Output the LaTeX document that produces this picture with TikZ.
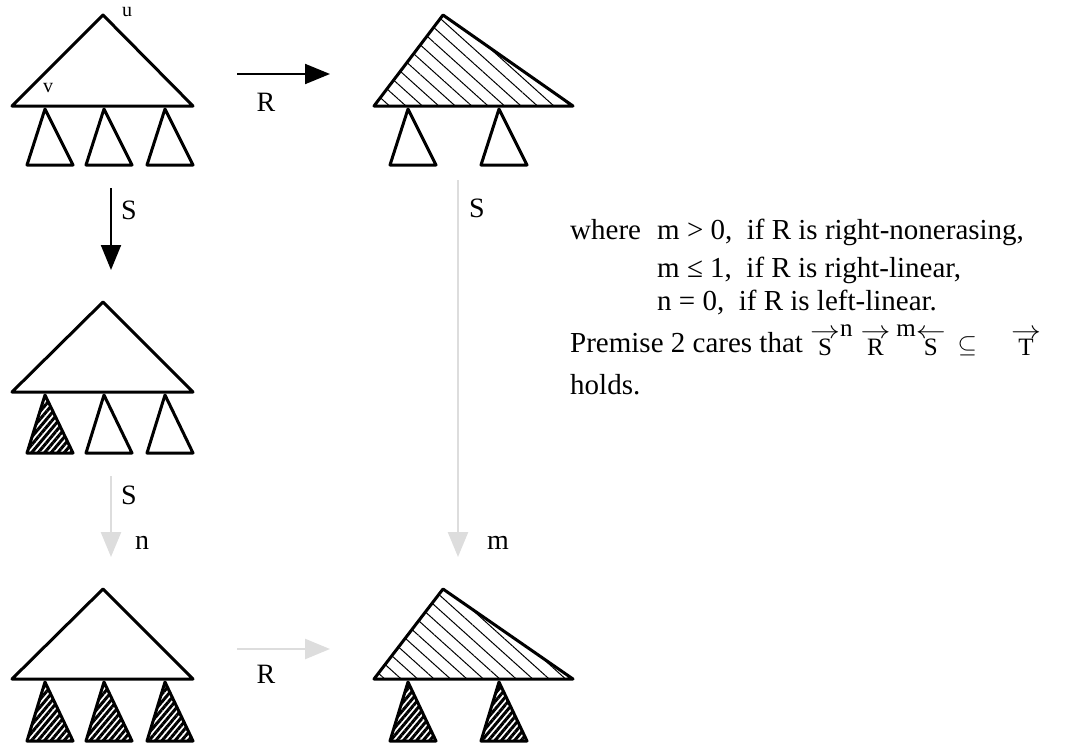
\documentclass[tikz,border=0pt]{standalone}
\usepackage{amsmath,amssymb,graphicx}
\usepackage{fontspec}
\setmainfont{Liberation Serif}
\usetikzlibrary{arrows.meta,patterns.meta}
\definecolor{lightgrey}{RGB}{221,221,221}

% letter with an arrow over it, for the relation in the text
\newcommand\relto[1]{\mbox{\ooalign{\hfil\raisebox{-3pt}{\fontsize{25}{25}\selectfont #1}\hfil\cr
  \raisebox{.48em}{\scalebox{1.2}[1]{$\rightarrow$}}\cr}}}
\newcommand\relfrom[1]{\mbox{\ooalign{\hfil\raisebox{-3pt}{\fontsize{25}{25}\selectfont #1}\hfil\cr
  \raisebox{.48em}{\scalebox{1.2}[1]{$\leftarrow$}}\cr}}}
\newcommand\uppow[1]{\raisebox{.55em}{\fontsize{25}{25}\selectfont #1}}

\tikzset{
  tree/.style={line width=3pt, line join=round},
  hatchtop/.style={pattern={Lines[angle=-42,distance=11pt,line width=1pt]}},
  hatchsub/.style={pattern={Lines[angle=50,distance=5pt,line width=3pt]}},
  black arrow/.style={line width=2pt, -{Triangle[length=25pt,width=20pt]}},
  grey arrow/.style={lightgrey, line width=2.5pt, -{Triangle[length=25pt,width=20pt]}},
  lbl/.style={font=\fontsize{28}{32}\selectfont, inner sep=0pt},
  small lbl/.style={font=\fontsize{20}{24}\selectfont, inner sep=0pt},
  txt/.style={font=\fontsize{29}{33}\selectfont, inner sep=0pt, anchor=base west}
}

\begin{document}
\begin{tikzpicture}[x=1pt,y=-1pt]
  \useasboundingbox (0,0) rectangle (1079,747);

  % top left
  \draw[tree] (103,15) -- (193,106) -- (12,106) -- cycle;
  \foreach \b in {27,86,147}
    \draw[tree] (\b+18,109) -- (\b+46,165) -- (\b,165) -- cycle;
  \node[small lbl] (u) at (127,12) {u};
  \node[small lbl] (v) at (48,88) {v};

  % top middle
  \draw[tree, hatchtop] (443,15) -- (573,106) -- (374,106) -- cycle;
  \foreach \b in {390,481}
    \draw[tree] (\b+18,109) -- (\b+46,165) -- (\b,165) -- cycle;

  % middle left
  \draw[tree] (103,302) -- (193,392) -- (12,392) -- cycle;
  \draw[tree, hatchsub] (45,395) -- (73,453) -- (27,453) -- cycle;
  \foreach \b in {86,147}
    \draw[tree] (\b+18,395) -- (\b+46,453) -- (\b,453) -- cycle;

  % bottom left
  \draw[tree] (103,589) -- (193,679) -- (12,679) -- cycle;
  \foreach \b in {27,86,147}
    \draw[tree, hatchsub] (\b+18,682) -- (\b+46,741) -- (\b,741) -- cycle;

  % bottom middle
  \draw[tree, hatchtop] (443,589) -- (573,679) -- (374,679) -- cycle;
  \foreach \b in {390,481}
    \draw[tree, hatchsub] (\b+18,682) -- (\b+46,741) -- (\b,741) -- cycle;

  % arrows
  \coordinate (rtop-a) at (237,74);
  \coordinate (rtop-b) at (330,74);
  \draw[black arrow] (rtop-a) -- (rtop-b);
  \node[lbl] (rtop) at (266,102) {R};

  \coordinate (sleft-a) at (111,188);
  \coordinate (sleft-b) at (111,270);
  \draw[black arrow] (sleft-a) -- (sleft-b);
  \node[lbl] (sleft) at (129,210) {S};

  \coordinate (sn-a) at (111,476);
  \coordinate (sn-b) at (111,557);
  \draw[grey arrow] (sn-a) -- (sn-b);
  \node[lbl] (sn) at (129,495) {S};
  \node[lbl] (n) at (142,543) {n};

  \coordinate (sm-a) at (458,180);
  \coordinate (sm-b) at (458,557);
  \draw[grey arrow] (sm-a) -- (sm-b);
  \node[lbl] (sm) at (477,208) {S};
  \node[lbl] (m) at (498,543) {m};

  \coordinate (rbot-a) at (237,649);
  \coordinate (rbot-b) at (330,649);
  \draw[grey arrow] (rbot-a) -- (rbot-b);
  \node[lbl] (rbot) at (266,674) {R};

  % text on the right
  \node[txt] (where) at (570,239) {where};
  \node[txt] (line1) at (657,239) {m > 0,\ \ if R is right-nonerasing,};
  \node[txt] (line2) at (657,277) {m ≤ 1,\ \ if R is right-linear,};
  \node[txt] (line3) at (657,310) {n = 0,\ \ if R is left-linear.};
  \node[txt] (line4) at (570,352) {Premise 2 cares that\ \relto{S}\uppow{n}\hspace{8pt}\relto{R}\hspace{6pt}\uppow{m}\relfrom{S}\hspace{12pt}$\subseteq$\hspace{34pt}\relto{T}};
  \node[txt] (line5) at (570,394) {holds.};
\end{tikzpicture}
\end{document}
